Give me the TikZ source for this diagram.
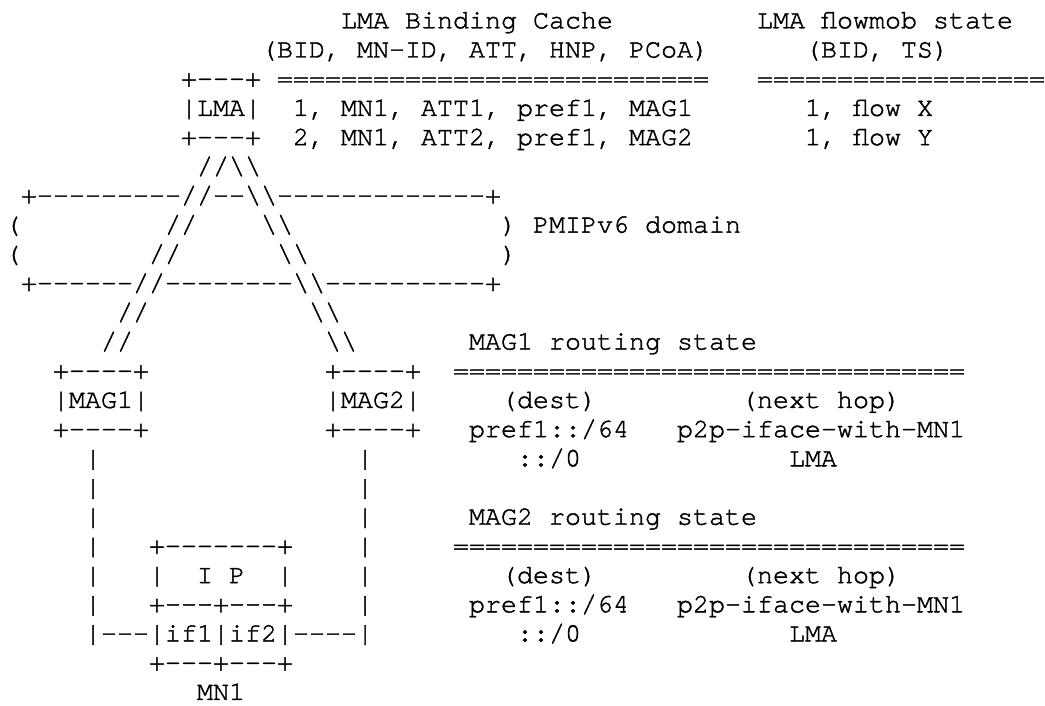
\documentclass[tikz,border=0pt]{standalone}
\usepackage{fontspec}
\setmonofont[FakeBold=1.5]{TeX Gyre Cursor}
\tikzset{asc/.style={anchor=base west, inner sep=0pt, outer sep=0pt, text=black,
  font=\ttfamily\fontsize{26.67}{29.2}\selectfont}}
\newcommand\T[4]{\node[asc] (#1) at ({5+16*(#2)},{-28.3-29.2*((#3)-1)}) {#4};}
\newcommand\bs{\textbackslash\textbackslash}
\begin{document}
\frenchspacing
\begin{tikzpicture}[x=1pt,y=1pt]
\fill[white] (0,0) rectangle (1045,-706);
\useasboundingbox (0,0) rectangle (1045,-706);
% top: LMA and its tables
\T{bchead}{21}{1}{LMA Binding Cache}
\T{fmhead}{47}{1}{LMA flowmob state}
\T{bccols}{16}{2}{(BID, MN-ID, ATT, HNP, PCoA)}
\T{fmcols}{50}{2}{(BID, TS)}
\T{lmatop}{11}{3}{+---+}
\T{bcrule}{17}{3}{===========================}
\T{fmrule}{47}{3}{==================}
\T{lmamid}{11}{4}{|LMA|}
\T{bcrow1}{18}{4}{1, MN1, ATT1, pref1, MAG1}
\T{fmrow1}{50}{4}{1, flow X}
\T{lmabot}{11}{5}{+---+}
\T{bcrow2}{18}{5}{2, MN1, ATT2, pref1, MAG2}
\T{fmrow2}{50}{5}{1, flow Y}
% tunnels and domain
\T{tun6}{12}{6}{//\bs}
\T{domtop}{1}{7}{+---------//--\bs-------------+}
\T{dl8}{0}{8}{(}
\T{ta8}{10}{8}{//}
\T{tb8}{16}{8}{\bs}
\T{dr8}{31}{8}{)}
\T{domlbl}{33}{8}{PMIPv6 domain}
\T{dl9}{0}{9}{(}
\T{ta9}{9}{9}{//}
\T{tb9}{17}{9}{\bs}
\T{dr9}{31}{9}{)}
\T{dombot}{1}{10}{+------//--------\bs----------+}
\T{ta11}{7}{11}{//}
\T{tb11}{19}{11}{\bs}
\T{ta12}{6}{12}{//}
\T{tb12}{20}{12}{\bs}
% MAG1 routing state
\T{m1head}{29}{12}{MAG1 routing state}
\T{magatop}{3}{13}{+----+}
\T{magbtop}{20}{13}{+----+}
\T{m1rule}{28}{13}{================================}
\T{magamid}{3}{14}{|MAG1|}
\T{magbmid}{20}{14}{|MAG2|}
\T{m1dest}{31}{14}{(dest)}
\T{m1nh}{46}{14}{(next hop)}
\T{magabot}{3}{15}{+----+}
\T{magbbot}{20}{15}{+----+}
\T{m1r1a}{29}{15}{pref1::/64}
\T{m1r1b}{42}{15}{p2p-iface-with-MN1}
\T{la16}{5}{16}{|}
\T{lb16}{22}{16}{|}
\T{m1r2a}{32}{16}{::/0}
\T{m1r2b}{49}{16}{LMA}
\T{la17}{5}{17}{|}
\T{lb17}{22}{17}{|}
% MAG2 routing state
\T{la18}{5}{18}{|}
\T{lb18}{22}{18}{|}
\T{m2head}{29}{18}{MAG2 routing state}
\T{la19}{5}{19}{|}
\T{mntop}{9}{19}{+-------+}
\T{lb19}{22}{19}{|}
\T{m2rule}{28}{19}{================================}
\T{la20}{5}{20}{|}
\T{mnipl}{9}{20}{|}
\T{mnipi}{12}{20}{I}
\T{mnipp}{14}{20}{P}
\T{mnipr}{17}{20}{|}
\T{lb20}{22}{20}{|}
\T{m2dest}{31}{20}{(dest)}
\T{m2nh}{46}{20}{(next hop)}
\T{la21}{5}{21}{|}
\T{mnmid}{9}{21}{+---+---+}
\T{lb21}{22}{21}{|}
\T{m2r1a}{29}{21}{pref1::/64}
\T{m2r1b}{42}{21}{p2p-iface-with-MN1}
\T{mnifs}{5}{22}{|---|if1|if2|----|}
\T{m2r2a}{32}{22}{::/0}
\T{m2r2b}{49}{22}{LMA}
\T{mnbot}{9}{23}{+---+---+}
\T{mnlbl}{12}{24}{MN1}
\end{tikzpicture}
\end{document}
